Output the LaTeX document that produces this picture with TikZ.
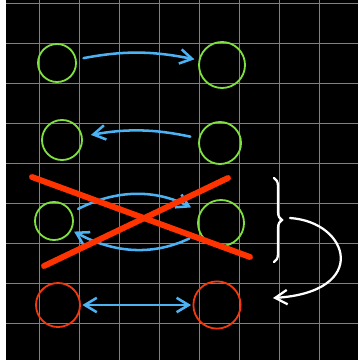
\documentclass[tikz,border=0pt]{standalone}
\usepackage{tikz}
\usetikzlibrary{arrows.meta,decorations.pathreplacing}
\definecolor{pizarra}{rgb}{0.0,0.0,0.0}
\definecolor{rejilla}{rgb}{0.50,0.50,0.50}
\definecolor{tizaverde}{rgb}{0.50,0.88,0.25}
\definecolor{tizaazul}{rgb}{0.30,0.70,0.95}
\definecolor{tizaroja}{rgb}{0.95,0.22,0.05}
\definecolor{tachon}{rgb}{1.00,0.20,0.00}
\tikzset{
  verde/.style={
    circle,
    draw=tizaverde,
    line width=1.3pt,
    inner sep=0pt
  },
  roja/.style={
    circle,
    draw=tizaroja,
    line width=1.3pt,
    inner sep=0pt
  },
  flecha/.style={
    -{Straight Barb[length=3mm,width=3.6mm]},
    line width=1.8pt,
    line cap=round,
    tizaazul
  },
  tiza/.style={
    line width=1.6pt,
    line cap=round,
    white
  },
  cruz/.style={
    line width=4.2pt,
    line cap=round,
    tachon
  }
}
\begin{document}
\begin{tikzpicture}[x=0.025cm,y=-0.025cm]
\useasboundingbox (0,0) rectangle (358,360);
\fill[white] (0,0) rectangle (358,360);
\fill[pizarra] (6,0) rectangle (358,360);
% rejilla
\foreach \i in {0,...,7}
  \draw[rejilla,line width=0.6pt] (39+40*\i,0) -- (39+40*\i,360);
\foreach \j in {0,...,8}
  \draw[rejilla,line width=0.6pt] (6,3+40*\j) -- (358,3+40*\j);
% circulos
\node[verde,minimum size=0.95cm] (a1) at (57,63) {};
\node[verde,minimum size=1.15cm] (b1) at (222,65) {};
\node[verde,minimum size=1.0cm] (a2) at (62,140) {};
\node[verde,minimum size=1.05cm] (b2) at (220,143) {};
\node[verde,minimum size=0.95cm] (a3) at (54,221) {};
\node[verde,minimum size=1.15cm] (b3) at (221,223) {};
\node[roja,minimum size=1.1cm] (a4) at (58,305) {};
\node[roja,minimum size=1.18cm] (b4) at (217,305) {};
% flechas
\draw[flecha,shorten <=5pt,shorten >=3pt] (a1) to[bend left=11] (b1);
\draw[flecha,shorten <=6pt,shorten >=6pt] (b2) to[bend right=11] (a2);
\draw[flecha,shorten <=5pt,shorten >=7pt] (a3) to[bend left=27] (b3);
\draw[flecha,shorten <=8pt,shorten >=2pt] (b3) to[bend left=27] (a3);
\draw[flecha,{Straight Barb[length=3mm,width=3.6mm]}-{Straight Barb[length=3mm,width=3.6mm]},shorten <=1pt,shorten >=1pt] (a4) -- (b4);
% tachado
\coordinate (x1) at (32,177);
\coordinate (x2) at (250,257);
\coordinate (y1) at (44,266);
\coordinate (y2) at (228,178);
\draw[cruz] (x1) -- (x2);
\draw[cruz] (y1) -- (y2);
% llave y vuelta
\coordinate (llaveA) at (274,178);
\coordinate (llaveB) at (274,262);
\coordinate (punta) at (290,218);
\coordinate (destino) at (273,298);
\draw[tiza,decorate,decoration={brace,amplitude=0.2cm}] (llaveA) -- (llaveB);
\draw[tiza,-{Straight Barb[length=3mm,width=3.6mm]}] (punta) .. controls (350,222) and (370,292) .. (destino);
\end{tikzpicture}
\end{document}
